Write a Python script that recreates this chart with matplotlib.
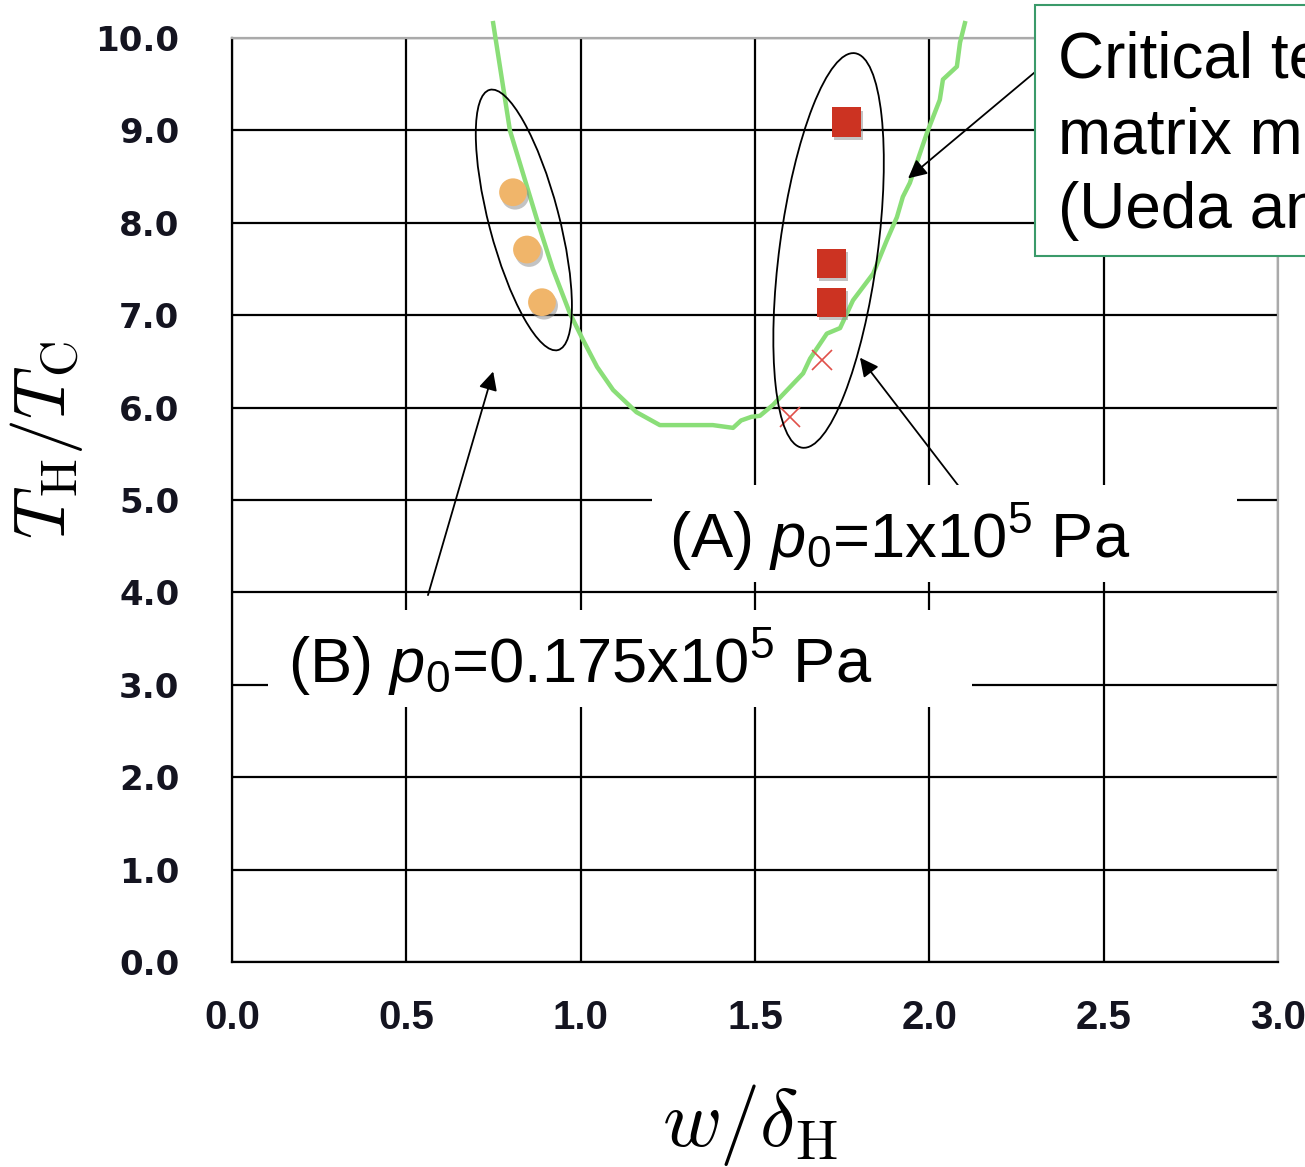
import matplotlib
matplotlib.use("Agg")
import matplotlib.pyplot as plt
import matplotlib.patheffects as pe
from matplotlib.patches import Ellipse, Rectangle
from matplotlib.transforms import ScaledTranslation


plt.rcParams['mathtext.fontset'] = 'custom'
plt.rcParams['mathtext.rm'] = 'Liberation Sans'
plt.rcParams['mathtext.it'] = 'Liberation Sans:italic'


#Critical temperature ratio curve (matrix method)
curve_w = [0.749, 0.797, 0.875, 0.92, 0.969, 1.007, 1.047, 1.093, 1.16, 1.227, 1.379,
           1.437, 1.46, 1.49, 1.514, 1.552, 1.638, 1.658, 1.706, 1.744, 1.781, 1.839,
           1.878, 1.907, 1.924, 1.944, 1.964, 1.993, 2.030, 2.039, 2.079, 2.088, 2.102]
curve_T = [10.16, 9.0, 8.03, 7.5, 7.02, 6.73, 6.44, 6.19, 5.95, 5.81, 5.81,
           5.78, 5.86, 5.90, 5.91, 6.03, 6.37, 6.53, 6.80, 6.86, 7.16, 7.45,
           7.81, 8.06, 8.28, 8.43, 8.65, 8.97, 9.33, 9.55, 9.69, 9.95, 10.16]

#(B) p0 = 0.175e5 Pa, oscillation
circ_w = [0.806, 0.846, 0.889]
circ_T = [8.33, 7.71, 7.14]

#(A) p0 = 1e5 Pa, oscillation
sq_w = [1.763, 1.720, 1.720]
sq_T = [9.09, 7.56, 7.14]

#(A) no oscillation
x_w = [1.692, 1.600]
x_T = [6.51, 5.90]

ticks_x = [0.0, 0.5, 1.0, 1.5, 2.0, 2.5, 3.0]
ticks_y = [0.0, 1.0, 2.0, 3.0, 4.0, 5.0, 6.0, 7.0, 8.0, 9.0, 10.0]


fig = plt.figure(figsize=(13.05, 11.67), dpi=100)
fig.patch.set_facecolor("white")
ax = fig.add_axes([0.1778, 0.1757, 0.8015, 0.7918])

ax.set_xlim(0, 3)
ax.set_ylim(0, 10)
ax.set_xticks(ticks_x)
ax.set_yticks(ticks_y)
ax.set_xticklabels([f"{t:.1f}" for t in ticks_x], family="Liberation Sans", weight="bold",
                   size=29, color="#141420")
ax.set_yticklabels([f"{t:.1f}" for t in ticks_y], family="DejaVu Sans", weight="bold",
                   size=24.5, color="#141420")
ax.tick_params(axis="both", length=0)
ax.tick_params(axis="x", pad=27)
ax.tick_params(axis="y", pad=38)

ax.set_axisbelow(True)
ax.grid(color="black", linewidth=1.6)
for side in ["left", "bottom"]:
    ax.spines[side].set_color("black")
    ax.spines[side].set_linewidth(1.6)
for side in ["top", "right"]:
    ax.spines[side].set_color("#aaaaaa")
    ax.spines[side].set_linewidth(1.6)

ax.plot(curve_w, curve_T, color="#8ade78", linewidth=3.2, clip_on=False, zorder=3)

shadow = [pe.SimplePatchShadow(offset=(1.5, -2.5), shadow_rgbFace="#888888", alpha=0.5), pe.Normal()]
ax.plot(circ_w, circ_T, "o", color="#f0b56a", markersize=20, markeredgewidth=0,
        path_effects=shadow, zorder=4)
ax.plot(sq_w, sq_T, "s", color="#cc3322", markersize=21, markeredgewidth=0,
        path_effects=shadow, zorder=4)
ax.plot(x_w, x_T, "x", color="#e0504a", markersize=15, markeredgewidth=1.2, zorder=4)

#ellipses drawn in inches around a data centre
for cx, cy, wid, hgt, ang in [(0.837, 8.03, 0.70, 2.69, 14.7), (1.711, 7.70, 0.98, 3.98, -7.6)]:
    ell = Ellipse((0, 0), wid, hgt, angle=ang, fill=False, edgecolor="black", linewidth=1.3,
                  transform=fig.dpi_scale_trans + ScaledTranslation(cx, cy, ax.transData), zorder=5)
    ax.add_patch(ell)

arrow = dict(arrowstyle="-|>", color="black", lw=1.3, mutation_scale=28, shrinkA=0, shrinkB=0)
ax.annotate("", xy=(1.939, 8.48), xytext=(2.303, 9.63), arrowprops=arrow, annotation_clip=False, zorder=6)
ax.annotate("", xy=(1.801, 6.54), xytext=(2.082, 5.16), arrowprops=arrow, zorder=6)
ax.annotate("", xy=(0.749, 6.39), xytext=(0.562, 3.97), arrowprops=arrow, zorder=6)

#white label boxes
ax.add_patch(Rectangle((1.204, 4.11), 1.678, 1.05, facecolor="white", edgecolor="none", zorder=7))
ax.add_patch(Rectangle((0.103, 2.76), 2.019, 1.05, facecolor="white", edgecolor="none", zorder=7))
ax.text(1.916, 4.38, r"(A) $p_0$=1x10$^5$ Pa", family="Liberation Sans", size=45.5,
        ha="center", va="baseline", zorder=8)
ax.text(0.998, 3.03, r"(B) $p_0$=0.175x10$^5$ Pa", family="Liberation Sans", size=45.5,
        ha="center", va="baseline", zorder=8)

#axis labels
ax.set_xlabel(r"$w/\delta_{\rm H}$", size=58, math_fontfamily="cm")
ax.set_ylabel(r"$T_{\rm H}/T_{\rm C}$", size=52, math_fontfamily="cm")
ax.xaxis.set_label_coords(0.495, -0.176)
ax.yaxis.set_label_coords(-0.177, 0.565)
ax.xaxis.label.set_verticalalignment("center")
ax.yaxis.label.set_verticalalignment("center")

#green annotation box, cut off by the figure edge as in the original
fig.patches.append(Rectangle((1035 / 1305, 1 - 256 / 1167), 0.4, 251 / 1167, transform=fig.transFigure,
                             facecolor="white", edgecolor="#3a9a6a", linewidth=1.5, zorder=9))
fig.text(1058 / 1305, 1 - 31 / 1167, "Critical temperature ratio by\nmatrix method\n(Ueda and Kato)",
         family="Liberation Sans", size=46, va="top", ha="left", linespacing=1.32, zorder=10)

fig.savefig("out.png", dpi=100)
